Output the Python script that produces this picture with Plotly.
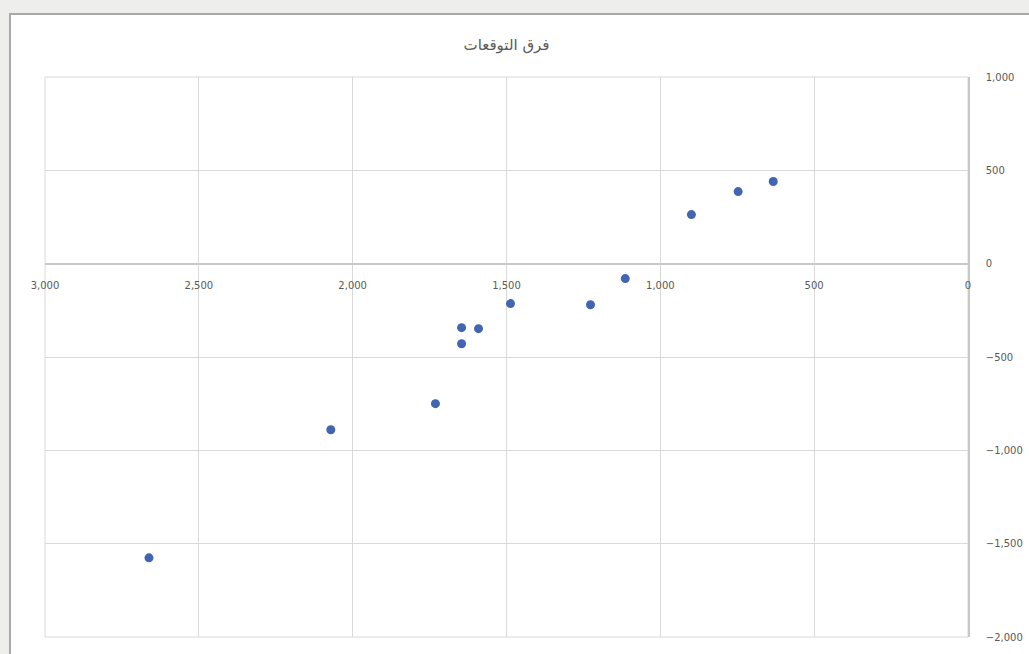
import plotly.graph_objects as go

title_text = "فرق التوقعات"
x_values = [633, 747, 899, 1114, 1227, 1487, 1591, 1646, 1646, 1731, 2071, 2662]
y_values = [440, 386, 263, -80, -220, -214, -348, -343, -429, -750, -890, -1576]
x_ticks = [0, 500, 1000, 1500, 2000, 2500, 3000]
y_ticks = [-2000, -1500, -1000, -500, 0, 500, 1000]

W, H = 1029, 654
L, R, T, B = 45, W - 968, 77, H - 637
pw, ph = W - L - R, H - T - B

fig = go.Figure()
fig.add_trace(go.Scatter(
    x=x_values, y=y_values, mode="markers",
    marker=dict(color="#4165b0", size=9, line=dict(width=0)),
    hoverinfo="x+y", showlegend=False,
))

ymin, ymax = -2000, 1000
fig.update_layout(
    width=W, height=H,
    margin=dict(l=L, r=R, t=T, b=B, pad=0, autoexpand=False),
    paper_bgcolor="#eeeeec",
    plot_bgcolor="white",
    font=dict(family="DejaVu Sans, Liberation Sans, sans-serif", color="#595959", size=10),
    title=dict(text=title_text, x=0.5, xref="paper", xanchor="center",
               y=1 - 45 / H, yanchor="middle",
               font=dict(size=15, color="#595959", family="DejaVu Sans, sans-serif")),
    xaxis=dict(
        range=[3000, 0], tickvals=x_ticks, tickformat=",d",
        showgrid=True, gridcolor="#d9d9d9", gridwidth=1,
        zeroline=False, showline=True, linecolor="#c8c8c8", linewidth=1.5,
        anchor="free", position=(0 - ymin) / (ymax - ymin),
        ticks="", ticklabelstandoff=13, automargin=False,
        tickfont=dict(size=10, color="#595959"),
    ),
    yaxis=dict(
        range=[ymin, ymax], tickvals=y_ticks, tickformat=",d",
        side="right", showgrid=True, gridcolor="#d9d9d9", gridwidth=1,
        zeroline=False, showline=True, linecolor="#c8c8c8", linewidth=1.5,
        ticks="", ticklabelstandoff=14, automargin=False,
        tickfont=dict(size=10, color="#595959"),
    ),
    shapes=[
        dict(
            type="rect", xref="paper", yref="paper", layer="below",
            x0=(10 - L) / pw, x1=(W + 20 - L) / pw,
            y0=-(H + 20 - (H - B)) / ph, y1=((H - B) - 14) / ph,
            fillcolor="white", line=dict(color="#a8a8a8", width=2),
        ),
        dict(
            type="rect", xref="x domain", yref="y domain", layer="below",
            x0=0, x1=1, y0=0, y1=1,
            fillcolor="rgba(0,0,0,0)", line=dict(color="#d9d9d9", width=1),
        ),
    ],
)

fig.write_html(
    "out.html",
    config={"displayModeBar": False},
    post_script="document.body.style.margin='0';document.body.style.overflow='hidden';",
)
